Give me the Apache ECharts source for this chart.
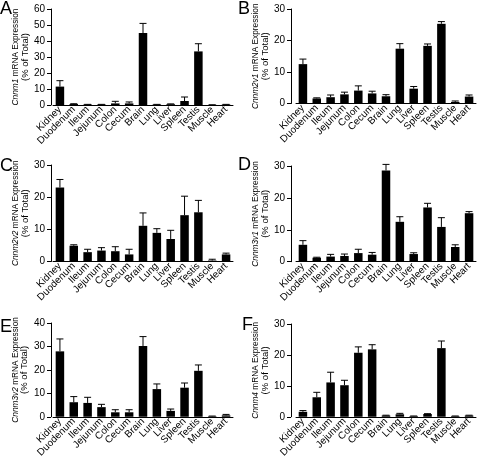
<!DOCTYPE html>
<html>
<head>
<meta charset="utf-8">
<script src="https://cdn.jsdelivr.net/npm/echarts@6/dist/echarts.min.js"></script>
<style>
html,body{margin:0;padding:0;background:#fff;}
#chart{width:477px;height:460px;}
</style>
</head>
<body>
<div id="chart"></div>
<script>
// ---- data ----
const categories = ['Kidney','Duodenum','Ileum','Jejunum','Colon','Cecum','Brain','Lung','Liver','Spleen','Testis','Muscle','Heart'];
const panelLetters = ['A','B','C','D','E','F'];
const geneNames = ['Cnnm1','Cnnm2v1','Cnnm2v2','Cnnm3v1','Cnnm3v2','Cnnm4'];
const yMax = [60, 30, 30, 30, 40, 30];
const yInterval = [10, 10, 10, 10, 10, 10];

const meanA = [11.5, 0.6, 0.3, 0.3, 1.0, 1.0, 45.0, 0.3, 0.5, 2.5, 33.5, 0.1, 0.3];
const semA  = [3.7, 0.2, 0.1, 0.1, 1.3, 0.9, 6.0, 0.1, 0.2, 2.5, 4.8, 0.05, 0.1];
const meanB = [12.5, 1.6, 2.0, 2.9, 4.1, 3.2, 2.3, 17.4, 4.7, 18.3, 25.3, 0.5, 2.2];
const semB  = [1.6, 0.2, 0.7, 0.7, 1.5, 0.7, 0.5, 1.6, 0.7, 0.6, 0.7, 0.3, 0.5];
const meanC = [23.0, 4.9, 2.9, 3.4, 3.2, 2.2, 11.1, 8.9, 7.0, 14.4, 15.3, 0.3, 2.2];
const semC  = [2.5, 0.3, 0.9, 0.9, 1.4, 1.6, 4.0, 1.3, 2.7, 5.9, 3.7, 0.4, 0.4];
const meanD = [5.3, 1.25, 1.6, 1.8, 2.7, 2.2, 28.6, 12.5, 2.4, 17.0, 10.9, 4.6, 15.2];
const semD  = [1.3, 0.15, 0.7, 0.6, 1.2, 0.7, 1.9, 1.6, 0.4, 1.3, 2.9, 0.7, 0.5];
const meanE = [27.9, 6.2, 5.9, 4.1, 1.9, 1.9, 30.2, 11.8, 2.5, 12.4, 19.6, 0.2, 0.6];
const semE  = [5.3, 2.4, 2.4, 1.2, 1.1, 1.1, 4.0, 2.2, 0.8, 2.0, 2.5, 0.1, 0.4];
const meanF = [1.6, 6.3, 11.1, 10.2, 20.7, 21.8, 0.4, 0.8, 0.2, 0.9, 22.2, 0.2, 0.4];
const semF  = [0.4, 1.6, 3.3, 1.6, 1.9, 1.5, 0.1, 0.3, 0.05, 0.1, 2.3, 0.05, 0.1];

const means = [meanA, meanB, meanC, meanD, meanE, meanF];
const sems = [semA, semB, semC, semD, semE, semF];

// ---- layout ----
const FONT = '"Liberation Sans", Arial, Helvetica, sans-serif';
const layout = [
  {left: 53,  top: 9,   height: 96,   yOff: 2, nameGap: 17, lx: 0,   ly: 0},
  {left: 296, top: 9,   height: 94.5, yOff: 5, nameGap: 14, lx: 238, ly: 0},
  {left: 53,  top: 165, height: 96.5, yOff: 2, nameGap: 20, lx: 0,   ly: 157},
  {left: 296, top: 166, height: 95.7, yOff: 5, nameGap: 16, lx: 238, ly: 156},
  {left: 53,  top: 323, height: 96.3, yOff: 2, nameGap: 22, lx: 0,   ly: 318},
  {left: 296, top: 324, height: 95.7, yOff: 5, nameGap: 14, lx: 242, ly: 316}
];
const gridWidth = 180;

const grids = [], xAxes = [], yAxes = [], series = [], graphics = [];

function errRender(params, api) {
  const i = api.value(0), m = api.value(1), t = api.value(2);
  const p0 = api.coord([i, m]);
  const p1 = api.coord([i, t]);
  const hw = 3.5;
  return {
    type: 'group',
    children: [
      {type: 'line', shape: {x1: p0[0], y1: p0[1], x2: p1[0], y2: p1[1]}, style: {stroke: '#000', lineWidth: 1}},
      {type: 'line', shape: {x1: p1[0] - hw, y1: p1[1], x2: p1[0] + hw, y2: p1[1]}, style: {stroke: '#000', lineWidth: 1}}
    ]
  };
}

for (let k = 0; k < 6; k++) {
  const L = layout[k];
  grids.push({left: L.left, top: L.top, width: gridWidth, height: L.height, containLabel: false});
  xAxes.push({
    type: 'category', gridIndex: k, data: categories,
    axisLine: {lineStyle: {color: '#000', width: 1}},
    axisTick: {show: false},
    axisLabel: {rotate: 45, interval: 0, fontSize: 10, color: '#000', fontFamily: FONT, margin: 3}
  });
  yAxes.push({
    type: 'value', gridIndex: k, min: 0, max: yMax[k], interval: yInterval[k],
    offset: L.yOff,
    axisLine: {show: true, lineStyle: {color: '#000', width: 1}},
    axisTick: {show: true, length: 4, lineStyle: {color: '#000'}},
    axisLabel: {fontSize: 10, color: '#000', fontFamily: FONT, margin: 6},
    splitLine: {show: false},
    name: '{i|' + geneNames[k] + '}{n| mRNA Expression}\n{p|(% of Total)}',
    nameLocation: 'middle',
    nameGap: L.nameGap,
    nameTextStyle: {
      color: '#000', fontFamily: FONT, lineHeight: 9,
      rich: {
        i: {fontStyle: 'italic', fontSize: 8.3, color: '#000', fontFamily: FONT, lineHeight: 9},
        n: {fontSize: 8.3, color: '#000', fontFamily: FONT, lineHeight: 9},
        p: {fontSize: 9.5, color: '#000', fontFamily: FONT, lineHeight: 9}
      }
    }
  });
  series.push({
    type: 'bar', xAxisIndex: k, yAxisIndex: k, data: means[k],
    barWidth: 8.5, itemStyle: {color: '#000'}, silent: true, animation: false
  });
  series.push({
    type: 'custom', xAxisIndex: k, yAxisIndex: k,
    data: means[k].map((m, j) => [j, m, m + sems[k][j]]),
    encode: {x: 0, y: [1, 2]},
    renderItem: errRender, z: 5, silent: true, animation: false
  });
  graphics.push({
    type: 'text', left: L.lx, top: L.ly,
    style: {text: panelLetters[k], font: '18px ' + FONT, fill: '#000'}
  });
}

const chart = echarts.init(document.getElementById('chart'), null, {renderer: 'canvas'});
chart.setOption({
  backgroundColor: '#fff',
  animation: false,
  grid: grids,
  xAxis: xAxes,
  yAxis: yAxes,
  series: series,
  graphic: graphics
});
</script>
</body>
</html>
